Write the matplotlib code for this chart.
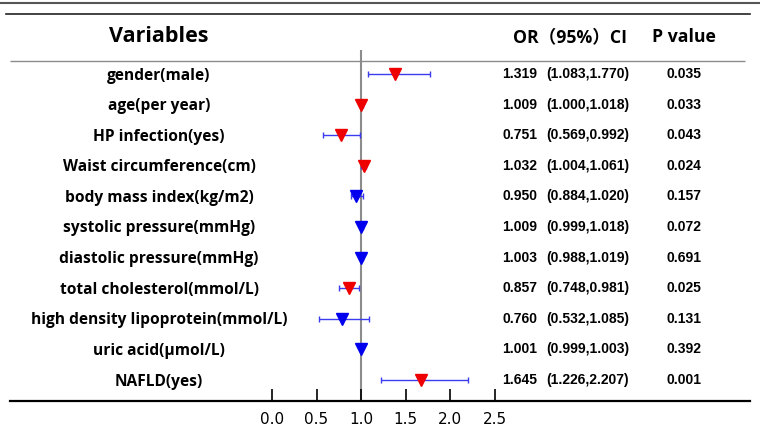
import matplotlib
matplotlib.use('Agg')
import matplotlib.pyplot as plt
from matplotlib.transforms import blended_transform_factory
from matplotlib.lines import Line2D

plt.rcParams['font.family'] = ['Open Sans', 'Noto Sans CJK SC', 'DejaVu Sans']

variables = [
    'gender(male)', 'age(per year)', 'HP infection(yes)', 'Waist circumference(cm)',
    'body mass index(kg/m2)', 'systolic pressure(mmHg)', 'diastolic pressure(mmHg)',
    'total cholesterol(mmol/L)', 'high density lipoprotein(mmol/L)', 'uric acid(\u03bcmol/L)',
    'NAFLD(yes)',
]
or_text = ['1.319', '1.009', '0.751', '1.032', '0.950', '1.009', '1.003', '0.857', '0.760', '1.001', '1.645']
ci_text = ['(1.083,1.770)', '(1.000,1.018)', '(0.569,0.992)', '(1.004,1.061)', '(0.884,1.020)',
           '(0.999,1.018)', '(0.988,1.019)', '(0.748,0.981)', '(0.532,1.085)', '(0.999,1.003)',
           '(1.226,2.207)']
p_values = [0.035, 0.033, 0.043, 0.024, 0.157, 0.072, 0.691, 0.025, 0.131, 0.392, 0.001]
# marker position and CI bar ends as drawn in the figure
or_point = [1.38, 1.0, 0.77, 1.03, 0.94, 1.0, 1.0, 0.86, 0.79, 1.0, 1.67]
ci_low = [1.083, 1.000, 0.569, 1.004, 0.884, 0.999, 0.988, 0.748, 0.532, 0.999, 1.226]
ci_high = [1.770, 1.018, 0.992, 1.061, 1.020, 1.018, 1.019, 0.981, 1.085, 1.003, 2.207]
xticks = [0.0, 0.5, 1.0, 1.5, 2.0, 2.5]

W, H = 760, 430
fig = plt.figure(figsize=(7.6, 4.3), dpi=100)
fig.patch.set_facecolor('white')

# axes spans x 10..750 px, y 0..401 px
ax = fig.add_axes([10 / W, 29 / H, 740 / W, 401 / H])
px_per_unit = 89.0
x0_px = 272.0
ax.set_xlim((10 - x0_px) / px_per_unit, (750 - x0_px) / px_per_unit)
row0, row_h = 74.0, 30.6
ax.set_ylim((401 - row0) / row_h, (0 - row0) / row_h)

for s in ['top', 'left', 'right']:
    ax.spines[s].set_visible(False)
ax.spines['bottom'].set_linewidth(1.6)
ax.spines['bottom'].set_color('black')
ax.set_yticks([])
ax.set_xticks(xticks)
ax.set_xticklabels(['%.1f' % t for t in xticks], family='DejaVu Sans', fontsize=11)
ax.tick_params(axis='x', direction='in', length=9, width=1.2, pad=8, color='black')

rows = list(range(len(variables)))

# reference line at OR = 1
ax.vlines(1.0, (50 - row0) / row_h, (401 - row0) / row_h, color='#8c8c8c', lw=1.5, zorder=1)
# line under header
ax.hlines((61 - row0) / row_h, (10 - x0_px) / px_per_unit, (745 - x0_px) / px_per_unit,
          color='#8c8c8c', lw=1.0)

for i in rows:
    col = '#ee0000' if p_values[i] < 0.05 else '#0000ee'
    ax.errorbar(or_point[i], i, xerr=[[or_point[i] - ci_low[i]], [ci_high[i] - or_point[i]]],
                fmt='none', ecolor='#3b3bf0', elinewidth=1.0, capsize=2.5, capthick=1.0, zorder=2)
    ax.plot(or_point[i], i, marker='v', color=col, markersize=9, ls='none', zorder=3)

# top rules
fig.add_artist(Line2D([0, 1], [1 - 3 / H, 1 - 3 / H], color='#555555', lw=1.5))
fig.add_artist(Line2D([6 / W, 750 / W], [1 - 14 / H, 1 - 14 / H], color='#222222', lw=1.2))

tr = blended_transform_factory(fig.transFigure, ax.transData)
head_y = (37 - row0) / row_h
ax.text(159 / W, head_y, 'Variables', transform=tr, ha='center', va='center',
        fontsize=15.5, fontweight='bold')
ax.text(570 / W, head_y, 'OR\uff0895%\uff09CI', transform=tr, ha='center', va='center',
        fontsize=12.7, fontweight='bold')
ax.text(684 / W, head_y, 'P value', transform=tr, ha='center', va='center',
        fontsize=12.7, fontweight='bold')

# small downward nudge so the labels sit on the row centre like the reference
lab_dy = 1.5 / row_h
for i in rows:
    ax.text(159 / W, i + lab_dy, variables[i], transform=tr, ha='center', va='center',
            fontsize=11.2, fontweight='bold')
    ax.text(502 / W, i, or_text[i], transform=tr, ha='left', va='center',
            fontsize=10, fontweight='bold', family='Liberation Sans')
    ax.text(546 / W, i, ci_text[i], transform=tr, ha='left', va='center',
            fontsize=10, fontweight='bold', family='Liberation Sans')
    ax.text(684 / W, i, '%.3f' % p_values[i], transform=tr, ha='center', va='center',
            fontsize=10, fontweight='bold', family='Liberation Sans')

fig.savefig('out.png', dpi=100)
